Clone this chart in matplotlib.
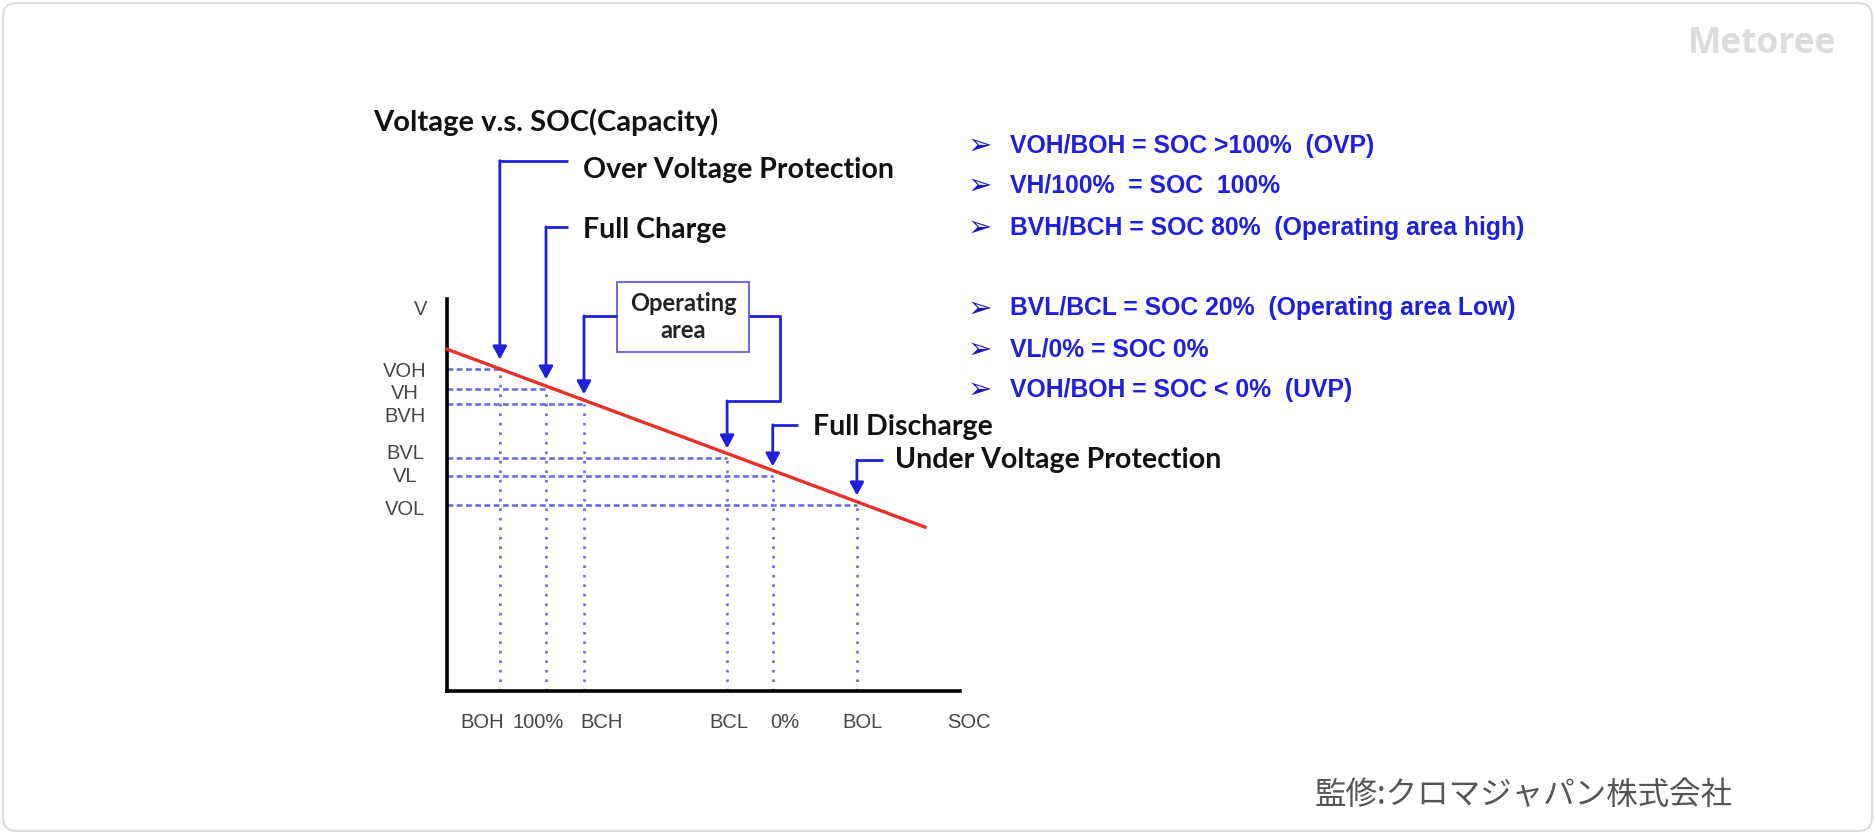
import matplotlib
matplotlib.use('Agg')
import matplotlib.pyplot as plt
from matplotlib.patches import FancyBboxPatch, Rectangle

# SOC points on the x axis and voltages on the y axis (arbitrary units, 0-100)
soc_names = ['BOH', '100%', 'BCH', 'BCL', '0%', 'BOL']
soc_pos = [10.3, 19.3, 26.7, 54.6, 63.5, 79.9]
v_names = ['VOH', 'VH', 'BVH', 'BVL', 'VL', 'VOL']
v_vals = [82.1, 77.0, 73.2, 59.4, 54.8, 47.4]
v_label_y = [81.6, 76.0, 70.0, 60.5, 54.6, 46.4]
soc_label_x = [6.8, 17.7, 30.2, 55.0, 65.9, 80.9]

# red voltage line
line_soc = [0, 93.2]
line_v = [87.2, 41.8]

notes = [
    'VOH/BOH = SOC >100%  (OVP)',
    'VH/100%  = SOC  100%',
    'BVH/BCH = SOC 80%  (Operating area high)',
    'BVL/BCL = SOC 20%  (Operating area Low)',
    'VL/0% = SOC 0%',
    'VOH/BOH = SOC < 0%  (UVP)',
]

blue = '#2020dc'
dot_blue = '#6b6be0'
red = '#e8302a'
gray = '#464646'
bold_font = 'Lato'

fig = plt.figure(figsize=(18.75, 8.34), dpi=100)

# background card in pixel coords
bg = fig.add_axes([0, 0, 1, 1])
bg.set_xlim(0, 1875)
bg.set_ylim(834, 0)
bg.axis('off')
bg.add_patch(FancyBboxPatch((3, 3), 1869, 828, boxstyle='round,pad=0,rounding_size=14',
                            fc='white', ec='#dcdcdc', lw=1.5))
bg.text(1762, 44, 'Metoree', fontsize=25.5, fontweight='bold', family='Open Sans',
        color='#dcdcdc', ha='center', va='center')
bg.text(1315, 795, '監修:クロマジャパン株式会社', fontsize=22.7, color='#555555',
        family=['Noto Sans CJK JP', 'DejaVu Sans'], ha='left', va='center')

# bullet list on the right
note_y = [152.5, 192.5, 234.5, 315.5, 356.5, 396.5]
for y, t in zip(note_y, notes):
    bg.text(980, y - 7, '➢', fontsize=21, color='#1a1ab8', family='DejaVu Sans', ha='center', va='center')
    bg.text(1010, y, t, fontsize=17.8, color=blue, family='Liberation Sans',
            fontweight='bold', ha='left', va='baseline')

# chart axes
ax = fig.add_axes([447 / 1875, 143 / 834, 513 / 1875, 392 / 834])
ax.patch.set_alpha(0)
ax.set_xlim(0, 100)
ax.set_ylim(0, 100)
for s in ['top', 'right']:
    ax.spines[s].set_visible(False)
for s in ['left', 'bottom']:
    ax.spines[s].set_linewidth(2.6)
    ax.spines[s].set_color('black')
ax.set_xticks([])
ax.set_yticks([])

# dotted guide lines
for x, v in zip(soc_pos, v_vals):
    ax.plot([0, x], [v, v], color=dot_blue, lw=1.9, dashes=(2.2, 1.3), zorder=1)
    ax.plot([x, x], [0, v], color=dot_blue, lw=1.9, dashes=(1.0, 2.6), zorder=1)

ax.plot(line_soc, line_v, color=red, lw=2.4, clip_on=False, zorder=3)

# axis labels
lab = dict(fontsize=14.5, color=gray, family='Liberation Sans', ha='center', va='center')
for y, t in zip(v_label_y, v_names):
    ax.text(-8.2, y, t, **lab)
ax.text(-5.1, 97.4, 'V', **lab)
for x, t in zip(soc_label_x, soc_names):
    ax.text(x, -8.0, t, **lab)
ax.text(101.8, -8.0, 'SOC', **lab)


def callout(xs, ys):
    ax.plot(xs[:-1], ys[:-1], color=blue, lw=2, clip_on=False, solid_capstyle='butt', zorder=4)
    ax.annotate('', xy=(xs[-1], ys[-1]), xytext=(xs[-2], ys[-2]), annotation_clip=False,
                arrowprops=dict(arrowstyle='-|>,head_length=0.55,head_width=0.3', color=blue,
                                lw=2, shrinkA=0, shrinkB=0, mutation_scale=14), zorder=4)


tip = [v + 2.5 for v in v_vals]
callout([23.6, soc_pos[0], soc_pos[0]], [135.3, 135.3, tip[0]])
callout([23.6, soc_pos[1], soc_pos[1]], [118.4, 118.4, tip[1]])
callout([33.1, soc_pos[2], soc_pos[2]], [95.7, 95.7, tip[2]])
callout([58.9, 64.9, 64.9, soc_pos[3], soc_pos[3]], [95.7, 95.7, 74.0, 74.0, tip[3]])
callout([68.4, soc_pos[4], soc_pos[4]], [67.9, 67.9, tip[4]])
callout([85.0, soc_pos[5], soc_pos[5]], [58.9, 58.9, tip[5]])

ax.add_patch(Rectangle((33.1, 86.5), 25.8, 17.8, fill=False, ec='#6a6ad8', lw=1.4, clip_on=False))
ax.text(46.0, 97.0, 'Operating', fontsize=17, fontweight='bold', family=bold_font, color='#222222',
        ha='center', va='baseline')
ax.text(46.0, 90.0, 'area', fontsize=17, fontweight='bold', family=bold_font, color='#222222',
        ha='center', va='baseline')

kw = dict(fontsize=20.5, fontweight='bold', family=bold_font, color='#111111', ha='left', va='baseline')
ax.text(-14.4, 142.9, 'Voltage v.s. SOC(Capacity)', **dict(kw, fontsize=21))
ax.text(26.5, 130.9, 'Over Voltage Protection', **kw)
ax.text(26.5, 115.6, 'Full Charge', **kw)
ax.text(71.3, 65.3, 'Full Discharge', **kw)
ax.text(87.3, 56.9, 'Under Voltage Protection', **kw)

fig.savefig('out.png', dpi=100)
